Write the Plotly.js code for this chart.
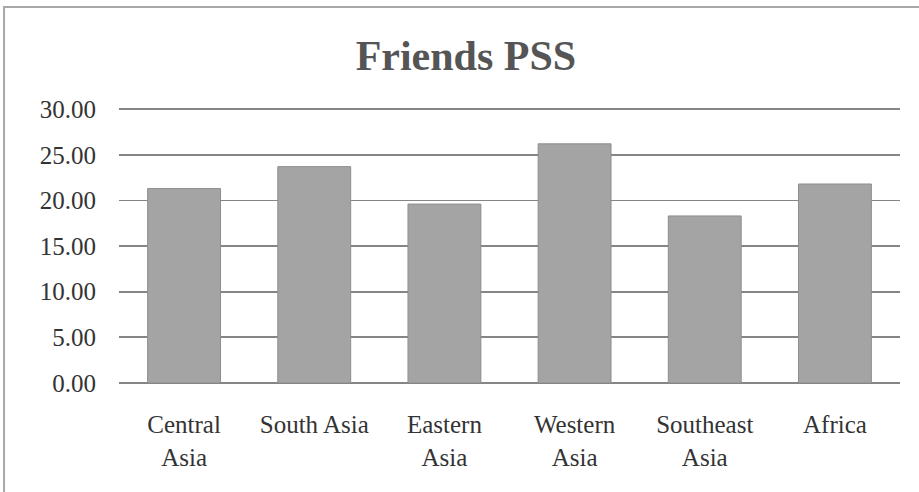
<!DOCTYPE html>
<html>
<head>
<meta charset="utf-8">
<script src="https://cdn.plot.ly/plotly-3.0.1.min.js"></script>
<style>
  html, body { margin: 0; padding: 0; background: #ffffff; }
  #chart { width: 919px; height: 492px; }
</style>
</head>
<body>
<div id="chart"></div>
<script>
// Regions and their mean "Friends" perceived social support scores
const regions = ["Central<br>Asia", "South Asia", "Eastern<br>Asia", "Western<br>Asia", "Southeast<br>Asia", "Africa"];
const friendsPSS = [21.3, 23.7, 19.6, 26.2, 18.3, 21.8];
const yTickValues = [0, 5, 10, 15, 20, 25, 30];
const yTickLabels = ["0.00", "5.00", "10.00", "15.00", "20.00", "25.00", "30.00"];

const serif = "Liberation Serif, Times New Roman, serif";

const trace = {
  type: "bar",
  x: regions,
  y: friendsPSS,
  marker: {
    color: "#a4a4a4",
    line: { color: "#8e8e8e", width: 1 }
  },
  hoverinfo: "x+y"
};

const layout = {
  width: 919,
  height: 492,
  margin: { l: 119, r: 19, t: 100, b: 109 },
  paper_bgcolor: "#ffffff",
  plot_bgcolor: "#ffffff",
  showlegend: false,
  bargap: 0.44,
  title: {
    text: "<b>Friends PSS</b>",
    font: { family: serif, size: 42, color: "#555555" },
    xref: "container",
    x: 0.507,
    xanchor: "center",
    yref: "container",
    y: 0.888,
    yanchor: "middle"
  },
  xaxis: {
    type: "category",
    tickfont: { family: serif, size: 25, color: "#333333" },
    showgrid: false,
    showline: false,
    ticks: "",
    ticklabelstandoff: 24,
    fixedrange: true
  },
  yaxis: {
    // headroom above 30 keeps the top gridline inside the plot area
    range: [0, 31],
    tickvals: yTickValues,
    ticktext: yTickLabels,
    tickfont: { family: serif, size: 25, color: "#333333" },
    showgrid: true,
    gridcolor: "#858585",
    gridwidth: 1.8,
    zeroline: true,
    zerolinecolor: "#858585",
    zerolinewidth: 1.8,
    showline: false,
    ticks: "",
    ticklabelstandoff: 22,
    fixedrange: true
  },
  shapes: [
    {
      // outer chart frame (left and top edges visible)
      type: "rect",
      xref: "paper", yref: "paper",
      x0: -0.1472, x1: 1.05,
      y0: -0.5, y1: 1.3286,
      line: { color: "#a8a8a8", width: 2 },
      fillcolor: "rgba(0,0,0,0)",
      layer: "below"
    }
  ]
};

Plotly.newPlot("chart", [trace], layout, { displayModeBar: false, staticPlot: true });
</script>
</body>
</html>
